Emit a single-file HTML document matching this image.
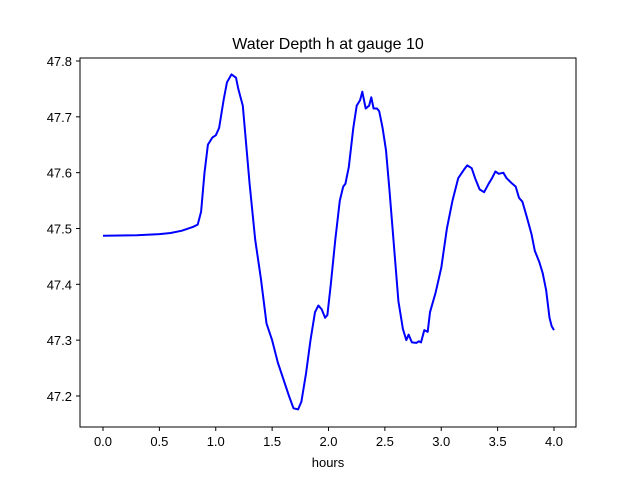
<!DOCTYPE html>
<html><head><meta charset="utf-8"><style>
body{margin:0;background:#fff}
svg text{font-family:"Liberation Sans","DejaVu Sans",sans-serif;font-size:13px;fill:#000}
</style></head><body>
<svg id="chart" width="640" height="480" viewBox="0 0 640 480">
<rect width="640" height="480" fill="#fff"/>
<text x="328" y="49" text-anchor="middle" style="font-size:16px">Water Depth h at gauge 10</text>
<text x="328" y="467" text-anchor="middle">hours</text>
<g id="ticks"></g>
<path id="line" fill="none" stroke="#0000ff" stroke-width="2" stroke-linejoin="round"/>
<rect x="80" y="58" width="496" height="369" fill="none" stroke="#000" stroke-width="1"/>
</svg>
<script>
const hours=[0,0.3,0.5,0.6,0.7,0.8,0.84,0.87,0.9,0.93,0.97,1.0,1.03,1.07,1.1,1.14,1.18,1.2,1.24,1.27,1.3,1.35,1.4,1.45,1.5,1.55,1.6,1.65,1.69,1.73,1.76,1.8,1.84,1.88,1.91,1.94,1.97,1.99,2.02,2.06,2.1,2.13,2.15,2.18,2.22,2.25,2.28,2.3,2.33,2.36,2.38,2.4,2.43,2.45,2.48,2.51,2.54,2.58,2.62,2.66,2.69,2.71,2.74,2.78,2.8,2.82,2.85,2.88,2.9,2.95,3.0,3.05,3.1,3.15,3.2,3.23,3.27,3.3,3.34,3.38,3.42,3.45,3.48,3.51,3.55,3.58,3.62,3.66,3.69,3.72,3.76,3.8,3.83,3.87,3.9,3.93,3.96,3.98,4.0];
const depth=[47.487,47.488,47.490,47.492,47.496,47.503,47.507,47.53,47.6,47.65,47.663,47.667,47.68,47.73,47.762,47.776,47.770,47.75,47.72,47.65,47.58,47.48,47.41,47.33,47.3,47.26,47.23,47.2,47.178,47.176,47.19,47.24,47.3,47.35,47.362,47.355,47.34,47.345,47.4,47.48,47.55,47.575,47.58,47.61,47.68,47.72,47.73,47.745,47.715,47.72,47.735,47.715,47.715,47.71,47.68,47.64,47.57,47.47,47.37,47.32,47.3,47.31,47.296,47.295,47.298,47.296,47.318,47.315,47.35,47.385,47.43,47.5,47.55,47.59,47.605,47.613,47.608,47.59,47.57,47.565,47.58,47.59,47.602,47.598,47.6,47.59,47.582,47.575,47.555,47.548,47.52,47.49,47.46,47.44,47.42,47.39,47.34,47.325,47.318];
const xTicks=[0,0.5,1,1.5,2,2.5,3,3.5,4];
const yTicks=[47.2,47.3,47.4,47.5,47.6,47.7,47.8];
const sx=v=>103+v*112.75;
const sy=v=>61+(47.8-v)*558.3;
const NS="http://www.w3.org/2000/svg";
const g=document.getElementById('ticks');
xTicks.forEach(t=>{
  const l=document.createElementNS(NS,'line');
  l.setAttribute('x1',sx(t));l.setAttribute('x2',sx(t));l.setAttribute('y1',427);l.setAttribute('y2',431);l.setAttribute('stroke','#000');
  
  
  g.appendChild(l);
  const tx=document.createElementNS(NS,'text');
  tx.setAttribute('x',sx(t));tx.setAttribute('y',446);tx.setAttribute('text-anchor','middle');
  tx.textContent=t.toFixed(1);
  
  
  g.appendChild(tx);
});
yTicks.forEach(t=>{
  const l=document.createElementNS(NS,'line');
  l.setAttribute('x1',76);l.setAttribute('x2',80);l.setAttribute('y1',sy(t));l.setAttribute('y2',sy(t));l.setAttribute('stroke','#000');
  
  
  g.appendChild(l);
  const tx=document.createElementNS(NS,'text');
  tx.setAttribute('x',72);tx.setAttribute('y',sy(t)+5);tx.setAttribute('text-anchor','end');
  tx.textContent=t.toFixed(1);
  
  
  g.appendChild(tx);
});
document.getElementById('line').setAttribute('d',hours.map((h,i)=>(i?'L':'M')+sx(h).toFixed(1)+','+sy(depth[i]).toFixed(1)).join(''));
</script>
</body></html>
